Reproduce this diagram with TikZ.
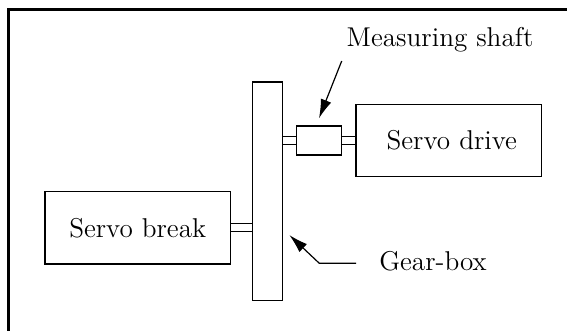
\documentclass[tikz,border=0pt]{standalone}
\usetikzlibrary{arrows.meta}
\begin{document}
\begin{tikzpicture}[x=0.5pt,y=-0.5pt,
  unit/.style={draw,line width=0.7pt,inner sep=0pt,font=\fontsize{13.6}{16}\selectfont},
  shaft/.style={line width=0.6pt},
  lbl/.style={inner sep=0pt,font=\fontsize{13.6}{16}\selectfont},
  pointer/.style={line width=0.6pt,-{Latex[length=9.5pt,width=5.5pt]}},
  frame/.style={line width=1.35pt}]
\useasboundingbox (0,0) rectangle (567,331);
% open frame: top and left edges
\draw[frame] (567,9.3) -- (8.7,9.3) -- (8.7,332);
% units
\node[unit,minimum width=14.9pt,minimum height=109.25pt] (gearbox) at (267.4,191.2) {};
\node[unit,minimum width=92.65pt,minimum height=36.15pt] (breakbox) at (137.7,227.9) {Servo break};
\node[unit,minimum width=22.5pt,minimum height=14.5pt] (meter) at (319.2,140.5) {};
\node[unit,minimum width=92.85pt,minimum height=36.2pt,text width=86pt,align=center] (drivebox) at (448.8,140.5) {\hspace*{3pt}Servo drive};
% shafts (double lines)
\draw[shaft] ([yshift=2pt]breakbox.east) -- ([yshift=2pt]breakbox.east -| gearbox.west);
\draw[shaft] ([yshift=-1.9pt]breakbox.east) -- ([yshift=-1.9pt]breakbox.east -| gearbox.west);
\draw[shaft] ([yshift=2pt]meter.west) -- ([yshift=2pt]meter.west -| gearbox.east);
\draw[shaft] ([yshift=-2pt]meter.west) -- ([yshift=-2pt]meter.west -| gearbox.east);
\draw[shaft] ([yshift=2pt]meter.east) -- ([yshift=2pt]drivebox.west);
\draw[shaft] ([yshift=-2pt]meter.east) -- ([yshift=-2pt]drivebox.west);
% labels with pointers
\node[lbl] (measlbl) at (440,40) {Measuring shaft};
\node[lbl] (gearlbl) at (433,261) {Gear-box};
\coordinate (measfrom) at (341.7,61);
\coordinate (measto) at (319,118.3);
\coordinate (gearfrom) at (356,263.3);
\coordinate (gearbend) at (319.3,263.3);
\coordinate (gearto) at (289.3,235);
\draw[pointer] (measfrom) -- (measto);
\draw[pointer] (gearfrom) -- (gearbend) -- (gearto);
\end{tikzpicture}
\end{document}
